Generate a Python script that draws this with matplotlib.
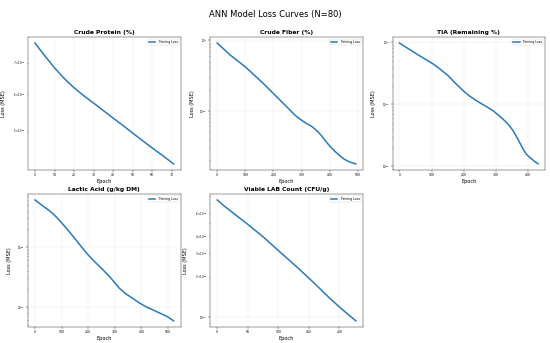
import numpy as np
import matplotlib
matplotlib.use("Agg")
import matplotlib.pyplot as plt

# epochs / training loss values (log y axis)
cp_epochs = [0, 5, 10, 15, 20, 25, 30, 35, 40, 45, 50, 55, 60, 65, 71]
cp_loss = [0.771, 0.724, 0.682, 0.647, 0.618, 0.594, 0.573, 0.552, 0.532,
           0.513, 0.494, 0.476, 0.459, 0.443, 0.424]

cf_epochs = [0, 47, 100, 164, 223, 250, 276, 300, 317, 335, 352, 370, 387,
             400, 417, 435, 452, 470, 493]
cf_loss = [0.916, 0.614, 0.420, 0.244, 0.142, 0.111, 0.0869, 0.0733, 0.0662,
           0.0603, 0.0533, 0.0447, 0.0365, 0.0316, 0.0269, 0.0232, 0.0205,
           0.0188, 0.0176]

tia_epochs = [0, 52, 104, 125, 151, 175, 198, 218, 239, 265, 291, 322, 340,
              354, 370, 385, 395, 406, 420, 432]
tia_loss = [0.964, 0.650, 0.448, 0.372, 0.290, 0.216, 0.166, 0.136, 0.115,
            0.0955, 0.0794, 0.0581, 0.0468, 0.0377, 0.0269, 0.0191, 0.0158,
            0.0140, 0.0122, 0.0110]

la_epochs = [0, 25, 56, 78, 100, 120, 143, 170, 199, 227, 255, 285, 317, 340,
             367, 392, 417, 466, 495, 521]
la_loss = [0.610, 0.501, 0.398, 0.324, 0.254, 0.200, 0.151, 0.106, 0.0741,
           0.0550, 0.0417, 0.0302, 0.0204, 0.0166, 0.0138, 0.0116, 0.0100,
           0.00794, 0.00692, 0.00581]

lab_epochs = [0, 10, 21, 48, 76, 103, 130, 157, 184, 201, 215, 227]
lab_loss = [0.750, 0.684, 0.624, 0.501, 0.394, 0.305, 0.237, 0.182, 0.138,
            0.1175, 0.1035, 0.0933]

titles = ['Crude Protein (%)', 'Crude Fiber (%)', 'TIA (Remaining %)',
          'Lactic Acid (g/kg DM)', 'Viable LAB Count (CFU/g)']
series = [(cp_epochs, cp_loss), (cf_epochs, cf_loss), (tia_epochs, tia_loss),
          (la_epochs, la_loss), (lab_epochs, lab_loss)]

# where the y label sits, in axes fraction
ylabel_x = [-0.143, -0.10, -0.11, -0.106, -0.144]

fig, axes = plt.subplots(2, 3, figsize=(16, 9.98), dpi=34.375)
axes = axes.flatten()

for i, (title, (ep, loss)) in enumerate(zip(titles, series)):
    ax = axes[i]
    ax.plot(ep, loss, label='Training Loss', linewidth=3.2, color='#2a7ab8')
    ax.set_yscale('log')
    ax.set_title(title, fontsize=12.7, fontweight='bold')
    ax.set_xlabel('Epoch', fontsize=10.5)
    ax.set_ylabel('Loss (MSE)', fontsize=10.5)
    ax.yaxis.set_label_coords(ylabel_x[i], 0.5)
    ax.tick_params(axis='x', labelsize=6.5)
    ax.tick_params(axis='y', which='both', labelsize=5.6, pad=2.5)
    ax.legend(fontsize=6.6, loc='upper right')
    ax.grid(True, alpha=0.3)

axes[5].axis('off')

fig.suptitle('ANN Model Loss Curves (N=80)', fontsize=17.5, y=0.97)
plt.subplots_adjust(left=0.051, right=0.991, top=0.892, bottom=0.047,
                    wspace=0.195, hspace=0.18)
plt.savefig('out.png', dpi=34.375)
